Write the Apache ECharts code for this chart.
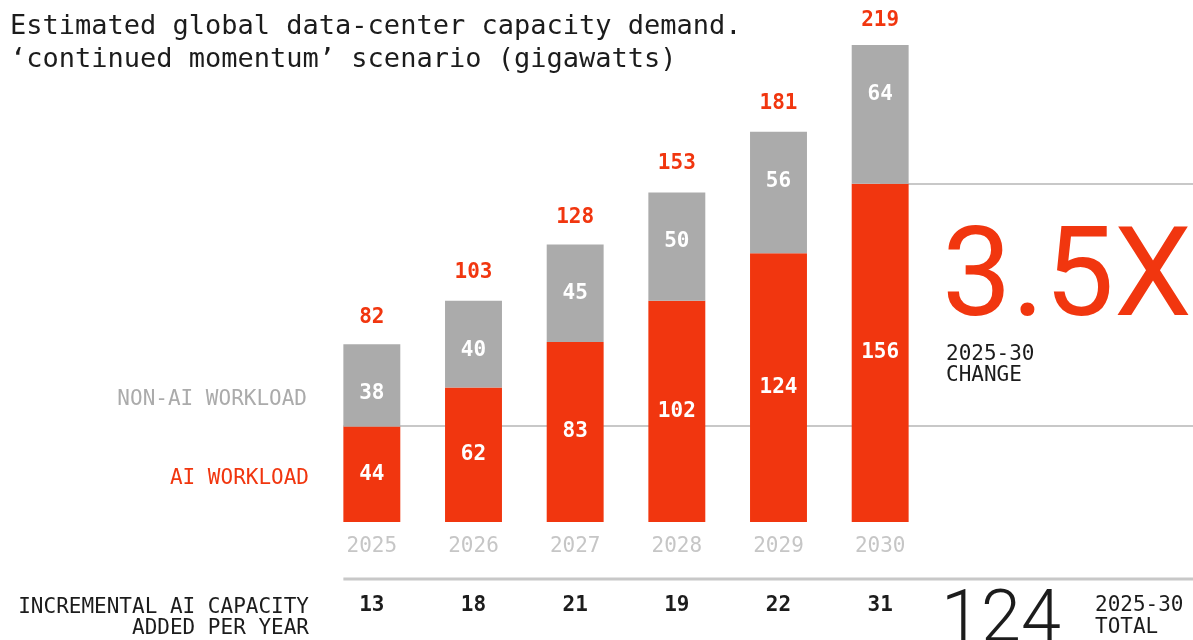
<!DOCTYPE html>
<html><head><meta charset="utf-8">
<script src="https://cdn.jsdelivr.net/npm/echarts@6/dist/echarts.min.js"></script>
<style>html,body{margin:0;padding:0;background:#fff}#c{width:1193px;height:640px}</style>
</head><body><div id="c"></div>
<script>
const years = ['2025','2026','2027','2028','2029','2030'];
const aiWorkload = [44, 62, 83, 102, 124, 156];
const nonAiWorkload = [38, 40, 45, 50, 56, 64];
const totals = [82, 103, 128, 153, 181, 219];
const incremental = [13, 18, 21, 19, 22, 31];
const multiple = '3.5X';
const totalAdded = '124';

const RED = '#f1360f', GRAY = '#ababab', LINE = '#c8c8c8', INK = '#1c1c1c';
const MONO = '"DejaVu Sans Mono", monospace';

const chart = echarts.init(document.getElementById('c'));
chart.setOption({
  animation: false,
  backgroundColor: '#fff',
  grid: { left: 321, width: 610, top: 45, bottom: 118 },
  xAxis: {
    type: 'category', data: years,
    axisLine: { show: false }, axisTick: { show: false },
    axisLabel: { color: '#c6c6c6', fontFamily: MONO, fontSize: 21, margin: 14 }
  },
  yAxis: { type: 'value', min: 0, max: 220, show: false, splitLine: { show: false } },
  series: [
    { type: 'bar', stack: 's', data: aiWorkload, barWidth: '56%', z: 3,
      itemStyle: { color: RED },
      label: { show: true, position: 'inside', color: '#fff', fontFamily: MONO, fontWeight: 'bold', fontSize: 21 } },
    { type: 'bar', stack: 's', data: nonAiWorkload, barWidth: '56%', z: 3,
      itemStyle: { color: GRAY },
      label: { show: true, position: 'insideTop', distance: 39, color: '#fff', fontFamily: MONO, fontWeight: 'bold', fontSize: 21 } },
    { type: 'scatter', data: totals, symbolSize: 0, z: 4, silent: true,
      itemStyle: { opacity: 1, color: RED },
      label: { show: true, position: 'top', distance: 16, color: RED, fontFamily: MONO, fontWeight: 'bold', fontSize: 21 } }
  ]
});

function px(cat, v) { return chart.convertToPixel({ xAxisIndex: 0, yAxisIndex: 0 }, [cat, v]); }
const W = 1193;
const barHalf = 0.56 * 610 / years.length / 2;
const p0 = px(years[0], aiWorkload[0]);
const pL = px(years[years.length - 1], aiWorkload[aiWorkload.length - 1]);
const g = [];
g.push({ type: 'line', z: 1, shape: { x1: p0[0] - barHalf, y1: Math.round(p0[1]) - 1, x2: W, y2: Math.round(p0[1]) - 1 }, style: { stroke: LINE, lineWidth: 2 } });
g.push({ type: 'line', z: 1, shape: { x1: pL[0], y1: Math.round(pL[1]), x2: W, y2: Math.round(pL[1]) }, style: { stroke: LINE, lineWidth: 2 } });
g.push({ type: 'line', z: 1, shape: { x1: p0[0] - barHalf, y1: 579, x2: W, y2: 579 }, style: { stroke: LINE, lineWidth: 3 } });
const txt = (x, y, text, font, fill, align, vAlign) => ({ type: 'text', z: 5, x, y,
  style: { text, font, fill, textAlign: align || 'left', textVerticalAlign: vAlign || 'middle' } });
g.push(txt(10, 27, 'Estimated global data-center capacity demand.', '27px ' + MONO, INK));
g.push(txt(10, 60, '‘continued momentum’ scenario (gigawatts)', '27px ' + MONO, INK));
g.push(txt(307, 400, 'NON-AI WORKLOAD', '21px ' + MONO, GRAY, 'right'));
g.push(txt(309, 479, 'AI WORKLOAD', '21px ' + MONO, RED, 'right'));
g.push(txt(309, 608, 'INCREMENTAL AI CAPACITY', '21px ' + MONO, INK, 'right'));
g.push(txt(309, 629, 'ADDED PER YEAR', '21px ' + MONO, INK, 'right'));
years.forEach((y, i) => {
  const p = px(y, 0);
  g.push(txt(p[0], 606, String(incremental[i]), 'bold 21px ' + MONO, INK, 'center'));
});
g.push(txt(942, 284, multiple, 'normal 400 124px Roboto', RED));
g.push(txt(946, 355, '2025-30', '21px ' + MONO, INK));
g.push(txt(946, 376, 'CHANGE', '21px ' + MONO, INK));
g.push(txt(941, 623, totalAdded, 'normal 300 72px Roboto', INK));
g.push(txt(1095, 606, '2025-30', '21px ' + MONO, INK));
g.push(txt(1095, 628, 'TOTAL', '21px ' + MONO, INK));
chart.setOption({ graphic: g });
</script></body></html>
